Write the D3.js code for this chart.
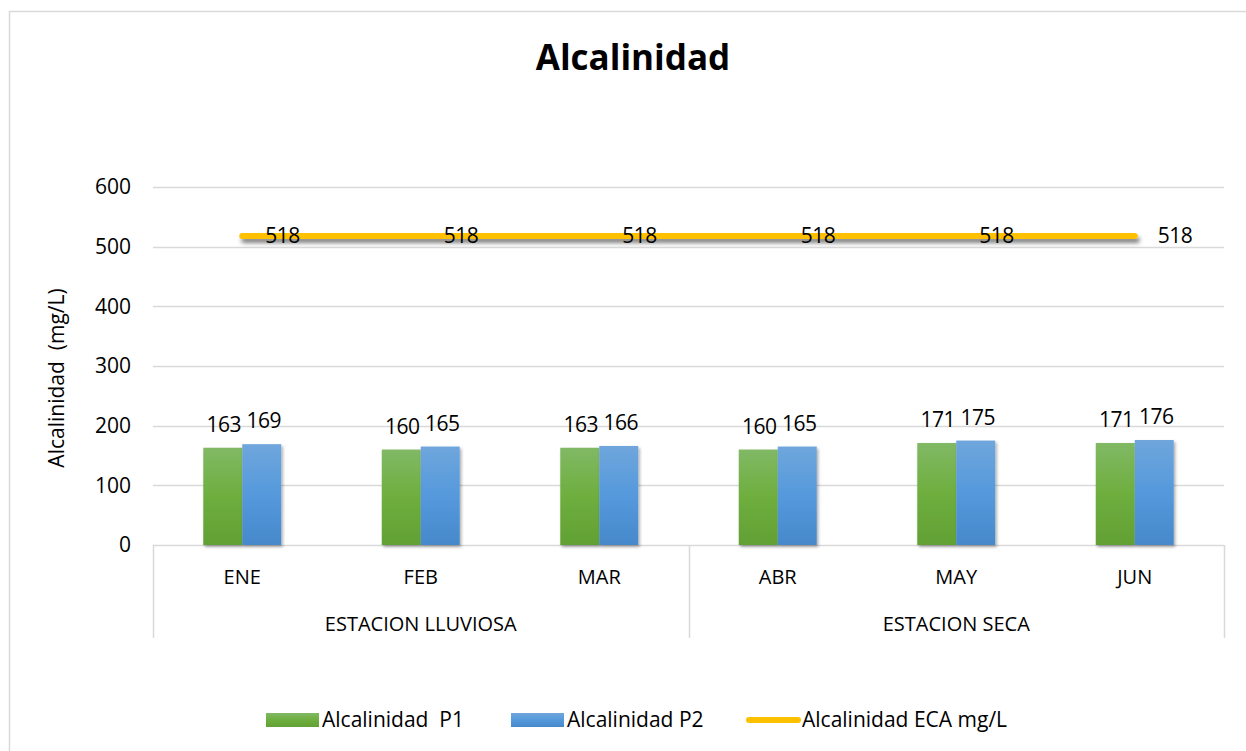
<!DOCTYPE html>
<html>
<head>
<meta charset="utf-8">
<script src="https://cdn.jsdelivr.net/npm/d3@7"></script>
<style>
  body { margin: 0; background: #fff; }
  text { font-family: "Open Sans", "Lato", sans-serif; fill: #000; white-space: pre; }
</style>
</head>
<body>
<div id="chart-area"></div>
<script>
const months = ["ENE", "FEB", "MAR", "ABR", "MAY", "JUN"];
const seasons = ["ESTACION LLUVIOSA", "ESTACION SECA"];
const seasonOf = ["ESTACION LLUVIOSA", "ESTACION LLUVIOSA", "ESTACION LLUVIOSA", "ESTACION SECA", "ESTACION SECA", "ESTACION SECA"];
const p1 = [163, 160, 163, 160, 171, 171];
const p2 = [169, 165, 166, 165, 175, 176];
const eca = [518, 518, 518, 518, 518, 518];
const yTicks = [0, 100, 200, 300, 400, 500, 600];
const seriesNames = ["Alcalinidad  P1", "Alcalinidad P2", "Alcalinidad ECA mg/L"];

const W = 1246, H = 751;
const margin = { top: 187, right: 22, bottom: 206, left: 153 };
const width = W - margin.left - margin.right;
const height = H - margin.top - margin.bottom;

const svg = d3.select('#chart-area')
  .append('svg')
  .attr('width', W)
  .attr('height', H);

const defs = svg.append('defs');
const gGreen = defs.append('linearGradient').attr('id', 'gGreen').attr('x1', 0).attr('x2', 0).attr('y1', 0).attr('y2', 1);
gGreen.append('stop').attr('offset', '0%').attr('stop-color', '#81b965');
gGreen.append('stop').attr('offset', '50%').attr('stop-color', '#6eae3e');
gGreen.append('stop').attr('offset', '100%').attr('stop-color', '#62a034');
const gBlue = defs.append('linearGradient').attr('id', 'gBlue').attr('x1', 0).attr('x2', 0).attr('y1', 0).attr('y2', 1);
gBlue.append('stop').attr('offset', '0%').attr('stop-color', '#6fa6dc');
gBlue.append('stop').attr('offset', '50%').attr('stop-color', '#5599dc');
gBlue.append('stop').attr('offset', '100%').attr('stop-color', '#4689cb');
const shadow = defs.append('filter').attr('id', 'shadow').attr('x', '-20%').attr('y', '-20%').attr('width', '150%').attr('height', '150%');
shadow.append('feDropShadow').attr('dx', 1.5).attr('dy', 2).attr('stdDeviation', 1.8).attr('flood-color', '#000').attr('flood-opacity', 0.35);
// horizontal line has a flat bbox, so its shadow filter works in user space
const lineShadow = defs.append('filter').attr('id', 'lineShadow').attr('filterUnits', 'userSpaceOnUse')
  .attr('x', 0).attr('y', 0).attr('width', W).attr('height', H);
lineShadow.append('feDropShadow').attr('dx', 2).attr('dy', 4).attr('stdDeviation', 2).attr('flood-color', '#000').attr('flood-opacity', 0.5);

// outer border
svg.append('rect')
  .attr('x', 9.5).attr('y', 11.5)
  .attr('width', W).attr('height', H)
  .attr('fill', 'none').attr('stroke', '#d9d9d9').attr('stroke-width', 1.5);

// title
svg.append('text')
  .attr('x', 633).attr('y', 70)
  .attr('text-anchor', 'middle')
  .style('font-size', '35px').style('font-weight', 'bold')
  .text('Alcalinidad');

const g = svg.append('g').attr('transform', `translate(${margin.left}, ${margin.top})`);

const x0 = d3.scaleBand().domain(months).range([0, width]);
const x1 = d3.scaleBand().domain(['p1', 'p2']).range([0, x0.bandwidth()]).paddingOuter(1.29);
const y = d3.scaleLinear().domain([0, 600]).range([height, 0]);

// gridlines
g.append('g').selectAll('line').data(yTicks).enter().append('line')
  .attr('x1', 0).attr('x2', width)
  .attr('y1', d => Math.round(y(d)) + 0.5).attr('y2', d => Math.round(y(d)) + 0.5)
  .attr('stroke', '#d9d9d9').attr('stroke-width', 1.5);

// y tick labels
g.append('g').selectAll('text').data(yTicks).enter().append('text')
  .attr('x', -22).attr('y', d => y(d)).attr('dy', '0.35em')
  .attr('text-anchor', 'end')
  .style('font-size', '21px')
  .text(d => d);

// y axis title
svg.append('text')
  .attr('transform', `translate(64, ${margin.top + height / 2 + 12}) rotate(-90)`)
  .attr('text-anchor', 'middle')
  .style('font-size', '21px')
  .text('Alcalinidad  (mg/L)');

// bars
const rows = months.map((m, i) => ({ month: m, p1: p1[i], p2: p2[i] }));
const groups = g.append('g').selectAll('g').data(rows).enter().append('g')
  .attr('transform', d => `translate(${x0(d.month)},0)`);
groups.selectAll('rect').data(d => [{ k: 'p1', v: d.p1 }, { k: 'p2', v: d.p2 }]).enter().append('rect')
  .attr('x', d => x1(d.k))
  .attr('y', d => y(d.v))
  .attr('width', x1.bandwidth())
  .attr('height', d => height - y(d.v))
  .attr('fill', d => d.k === 'p1' ? 'url(#gGreen)' : 'url(#gBlue)')
  .attr('filter', 'url(#shadow)');
groups.selectAll('text').data(d => [{ k: 'p1', v: d.p1 }, { k: 'p2', v: d.p2 }]).enter().append('text')
  .attr('x', d => x1(d.k) + x1.bandwidth() / 2 + (d.k === 'p1' ? 1 : 2))
  .attr('y', d => y(d.v) - 16)
  .attr('text-anchor', 'middle')
  .style('font-size', '21px')
  .style('letter-spacing', '-0.5px')
  .text(d => d.v);

// ECA line
const cx = m => x0(m) + x0.bandwidth() / 2;
const line = d3.line().x((d, i) => cx(months[i])).y(d => y(d));
g.append('path')
  .datum(eca)
  .attr('d', line)
  .attr('fill', 'none')
  .attr('stroke', '#ffc000')
  .attr('stroke-width', 6)
  .attr('stroke-linecap', 'round')
  .attr('filter', 'url(#lineShadow)');
g.append('g').selectAll('text').data(eca).enter().append('text')
  .attr('x', (d, i) => cx(months[i]) + 23)
  .attr('y', d => y(d))
  .attr('dy', '0.35em')
  .style('font-size', '21px')
  .style('letter-spacing', '-0.5px')
  .text(d => d);

// category axis (two levels)
const catAxis = g.append('g').attr('transform', `translate(0, ${height})`);
catAxis.selectAll('text.month').data(months).enter().append('text')
  .attr('class', 'month')
  .attr('x', d => cx(d)).attr('y', 32).attr('dy', '0.35em')
  .attr('text-anchor', 'middle')
  .style('font-size', '20px')
  .text(d => d);
const seasonSpan = seasons.map(s => {
  const ms = months.filter((m, i) => seasonOf[i] === s);
  return { name: s, x0: x0(ms[0]), x1: x0(ms[ms.length - 1]) + x0.bandwidth() };
});
catAxis.selectAll('text.season').data(seasonSpan).enter().append('text')
  .attr('class', 'season')
  .attr('x', d => (d.x0 + d.x1) / 2).attr('y', 79).attr('dy', '0.35em')
  .attr('text-anchor', 'middle')
  .style('font-size', '20px')
  .text(d => d.name);
const seps = [0].concat(seasonSpan.map(d => d.x1));
catAxis.selectAll('line.sep').data(seps).enter().append('line')
  .attr('class', 'sep')
  .attr('x1', d => Math.round(d) + 0.5).attr('x2', d => Math.round(d) + 0.5)
  .attr('y1', 0).attr('y2', 93)
  .attr('stroke', '#d9d9d9').attr('stroke-width', 1.5);

// legend
const legend = svg.append('g').attr('transform', 'translate(0, 720)');
const legItems = [
  { name: seriesNames[0], x: 266, kind: 'bar', fill: 'url(#gGreen)' },
  { name: seriesNames[1], x: 511, kind: 'bar', fill: 'url(#gBlue)' },
  { name: seriesNames[2], x: 746, kind: 'line', fill: '#ffc000' }
];
const li = legend.selectAll('g').data(legItems).enter().append('g')
  .attr('transform', d => `translate(${d.x},0)`);
li.filter(d => d.kind === 'bar').append('rect')
  .attr('x', 0).attr('y', -7).attr('width', 53).attr('height', 14)
  .attr('fill', d => d.fill);
li.filter(d => d.kind === 'line').append('line')
  .attr('x1', 3).attr('x2', 52).attr('y1', 0).attr('y2', 0)
  .attr('stroke', d => d.fill).attr('stroke-width', 6).attr('stroke-linecap', 'round');
li.append('text')
  .attr('x', 56).attr('y', 0).attr('dy', '0.35em')
  .style('font-size', '21px')
  .text(d => d.name);
</script>
</body>
</html>
